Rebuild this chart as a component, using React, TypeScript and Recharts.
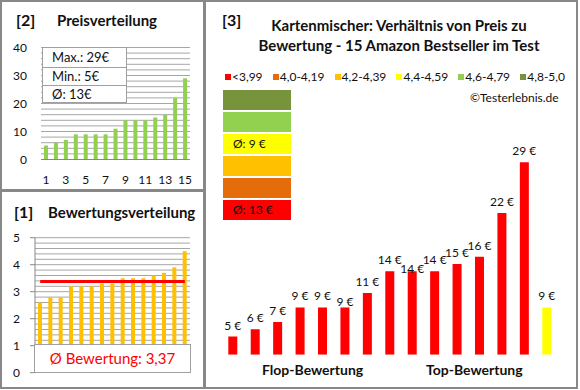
import { Bar, BarChart, Cell, ComposedChart, LabelList, Line, ReferenceLine, XAxis, YAxis } from "recharts";

// 15 products, sorted by price (chart [2]) and by rating (chart [1] and [3])
const productIds = ["1", "2", "3", "4", "5", "6", "7", "8", "9", "10", "11", "12", "13", "14", "15"];
const priceSorted = [5, 6, 7, 9, 9, 9, 9, 11, 14, 14, 14, 15, 16, 22, 29];
const ratingSorted = [2.6, 2.8, 2.8, 3.2, 3.2, 3.2, 3.3, 3.3, 3.5, 3.5, 3.5, 3.6, 3.7, 3.9, 4.5];
const priceByRating = [5, 6, 7, 9, 9, 9, 11, 14, 14, 14, 15, 16, 22, 29, 9];

const bucketLabels = ["<3,99", "4,0-4,19", "4,2-4,39", "4,4-4,59", "4,6-4,79", "4,8-5,0"];
const bucketMins = [0, 4.0, 4.2, 4.4, 4.6, 4.8];
const bucketColors = ["#ff0000", "#e46c0a", "#ffc000", "#ffff00", "#92d050", "#77933c"];

const priceTicks = [0, 10, 20, 30, 40];
const priceGridTicks = Array.from({ length: 20 }, (_, i) => (i + 1) * 2);
const ratingTicks = [0, 1, 2, 3, 4, 5];
const ratingGridTicks = Array.from({ length: 25 }, (_, i) => (i + 1) / 5);

const bucketOf = (r: number) => {
    let b = 0;
    bucketMins.forEach((m, i) => { if (r >= m) b = i; });
    return b;
};

const avgRating = ratingSorted.reduce((a, b) => a + b, 0) / ratingSorted.length;
const avgPrice = Math.round(priceSorted.reduce((a, b) => a + b, 0) / priceSorted.length);

const priceData = productIds.map((id, i) => ({ id, price: priceSorted[i] }));
const ratingData = productIds.map((id, i) => ({ id, rating: ratingSorted[i], avg: avgRating }));
const mixData = productIds.map((id, i) => ({ id, price: priceByRating[i], bucket: bucketOf(ratingSorted[i]) }));

const bucketAvg = bucketLabels.map((_, b) => {
    const p = mixData.filter(d => d.bucket === b).map(d => d.price);
    return p.length ? Math.round(p.reduce((a, c) => a + c, 0) / p.length) : null;
});

const gray = "#888";
const gridColor = "#a6a6a6";

const priceMargin = { top: 47.5, right: 10, bottom: 30.5, left: 41 };
const ratingMargin = { top: 46.7, right: 15, bottom: 15.3, left: 35 };

// grid drawn as its own chart underneath, so the bars sit on top of it
const GridLayer = ({ width, height, margin, domain, values, data, dataKey }: any) => (
    <BarChart width={width} height={height} data={data} margin={margin}>
        <XAxis dataKey="id" hide />
        <YAxis domain={domain} hide />
        <Bar dataKey={dataKey} fill="none" isAnimationActive={false} />
        {values.map((v: number) => <ReferenceLine key={v} y={v} stroke={gridColor} />)}
    </BarChart>
);

// Excel nudged a couple of overlapping labels down
const labelDrop: Record<number, number> = { 5: 6, 8: 9 };

const PriceLabel = (props: any) => {
    const { x, y, width, value, index } = props;
    return (
        <text x={x + width / 2} y={y - 7 + (labelDrop[index] ?? 0)} textAnchor="middle" fontSize={12} fill="#111">
            {value} €
        </text>
    );
};

const abs = (left: number, top: number, extra: React.CSSProperties = {}): React.CSSProperties => ({
    position: "absolute", left, top, ...extra,
});

export default function App() {
    return (
        <div style={{ position: "absolute", left: 0, top: 0, width: 580, height: 390, background: "#fff", fontFamily: "Lato, sans-serif", color: "#111", overflow: "hidden" }}>
            {/* panel frames */}
            <div style={abs(0, 0, { width: 205, height: 191, boxSizing: "border-box", border: `2px solid ${gray}` })} />
            <div style={abs(0, 190, { width: 205, height: 199, boxSizing: "border-box", border: `2px solid ${gray}` })} />
            <div style={abs(204, 0, { width: 374, height: 389, boxSizing: "border-box", border: `2px solid ${gray}` })} />

            {/* [2] Preisverteilung */}
            <div style={abs(16, 10, { fontSize: 16, fontWeight: 700 })}>[2]</div>
            <div style={abs(57, 11, { fontSize: 15, fontWeight: 700 })}>Preisverteilung</div>
            <div style={abs(0, 0)}>
                <GridLayer width={200} height={190} margin={priceMargin} domain={[0, 40]} values={priceGridTicks} data={priceData} dataKey="price" />
            </div>
            <div style={abs(0, 0)}>
                <BarChart width={200} height={190} data={priceData} margin={{ top: 47.5, right: 10, bottom: 0, left: 0 }}>
                    <XAxis dataKey="id" interval={1} height={30.5} axisLine={{ stroke: gray }} tickLine={false} tickSize={0} tickMargin={16} tick={{ fill: "#111", fontSize: 12 }} />
                    <YAxis domain={[0, 40]} ticks={priceTicks} width={41} axisLine={false} tickLine={false} tickSize={0} tickMargin={14} tick={{ fill: "#111", fontSize: 12 }} />
                    <Bar dataKey="price" fill="#92d050" barSize={4} isAnimationActive={false} />
                </BarChart>
            </div>
            <div style={abs(42, 47, { width: 85, height: 56, boxSizing: "border-box", border: "1px solid #a0a0a0", background: "#fff", fontSize: 13 })}>
                <div style={{ height: 19, lineHeight: "19px", paddingLeft: 9, borderBottom: "1px solid #a0a0a0" }}>Max.: {Math.max(...priceSorted)}€</div>
                <div style={{ height: 17, lineHeight: "17px", paddingLeft: 9, borderBottom: "1px solid #a0a0a0" }}>Min.: {Math.min(...priceSorted)}€</div>
                <div style={{ height: 17, lineHeight: "17px", paddingLeft: 9 }}>Ø: {avgPrice}€</div>
            </div>

            {/* [1] Bewertungsverteilung */}
            <div style={abs(14, 202, { fontSize: 16, fontWeight: 700 })}>[1]</div>
            <div style={abs(48, 203, { fontSize: 15, fontWeight: 700 })}>Bewertungsverteilung</div>
            <div style={abs(0, 191)}>
                <GridLayer width={205} height={197} margin={ratingMargin} domain={[0, 5]} values={ratingGridTicks} data={ratingData} dataKey="rating" />
            </div>
            <div style={abs(0, 191)}>
                <ComposedChart width={205} height={197} data={ratingData} margin={{ top: 46.7, right: 15, bottom: 15.3, left: 0 }}>
                    <XAxis dataKey="id" hide />
                    <YAxis domain={[0, 5]} ticks={ratingTicks} width={35} axisLine={{ stroke: gray }} tickLine={{ stroke: gray }} tickSize={5} tickMargin={10} tick={{ fill: "#111", fontSize: 12 }} />
                    <Bar dataKey="rating" fill="#ffc000" barSize={4} isAnimationActive={false} />
                    <Line dataKey="avg" stroke="#ff0000" strokeWidth={3} dot={false} isAnimationActive={false} />
                </ComposedChart>
            </div>
            <div style={abs(34, 344, { width: 157, height: 29, boxSizing: "border-box", border: "1px solid #a0a0a0", background: "#fff", color: "#ff0000", fontSize: 15, textAlign: "center", lineHeight: "27px" })}>
                Ø Bewertung: {avgRating.toFixed(2).replace(".", ",")}
            </div>

            {/* [3] Kartenmischer */}
            <div style={abs(222, 10, { fontSize: 16, fontWeight: 700 })}>[3]</div>
            <div style={abs(220, 15, { width: 358, fontSize: 15, fontWeight: 700, textAlign: "center", lineHeight: "20px" })}>
                Kartenmischer: Verhältnis von Preis zu<br />Bewertung - 15 Amazon Bestseller im Test
            </div>
            <div style={abs(225, 69, { width: 340, display: "flex", justifyContent: "space-between", fontSize: 12, lineHeight: "16px" })}>
                {bucketLabels.map((l, i) => (
                    <span key={l} style={{ display: "flex", alignItems: "center" }}>
                        <span style={{ width: 6, height: 6, background: bucketColors[i], marginRight: 1 }} />
                        {l}
                    </span>
                ))}
            </div>
            <div style={abs(470, 90, { fontSize: 12, lineHeight: "16px" })}>©Testerlebnis.de</div>
            <div style={abs(223, 90, { width: 68, display: "flex", flexDirection: "column", gap: 2 })}>
                {bucketColors.map((c, i) => i).reverse().map(i => (
                    <div key={i} style={{ height: 20, background: bucketColors[i], fontSize: 12, lineHeight: "20px", paddingLeft: 10 }}>
                        {bucketAvg[i] !== null ? `Ø: ${bucketAvg[i]} €` : ""}
                    </div>
                ))}
            </div>
            <div style={abs(205, 0)}>
                <BarChart width={372} height={388} data={mixData} margin={{ top: 155, right: 19.3, bottom: 33.3, left: 16.3 }}>
                    <XAxis dataKey="id" hide />
                    <YAxis domain={[2.5, 30]} allowDataOverflow hide />
                    <Bar dataKey="price" barSize={9} isAnimationActive={false}>
                        {mixData.map(d => <Cell key={d.id} fill={bucketColors[d.bucket]} />)}
                        <LabelList dataKey="price" content={PriceLabel} />
                    </Bar>
                </BarChart>
            </div>
            <div style={abs(262, 361, { fontSize: 14, fontWeight: 700 })}>Flop-Bewertung</div>
            <div style={abs(426, 361, { fontSize: 14, fontWeight: 700 })}>Top-Bewertung</div>
        </div>
    );
}
